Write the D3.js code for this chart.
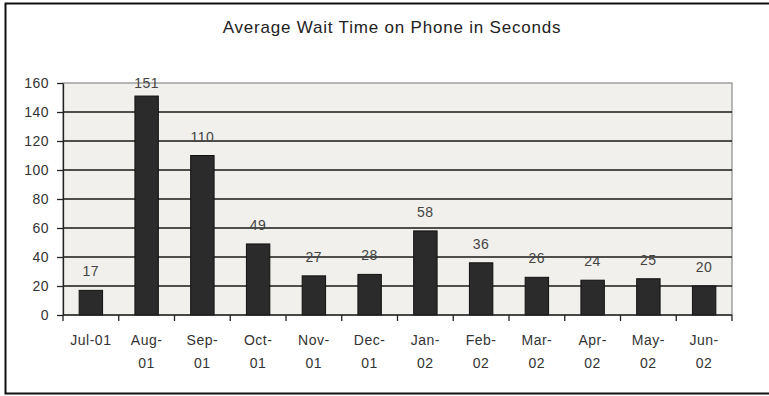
<!DOCTYPE html>
<html>
<head>
<meta charset="utf-8">
<script src="https://cdn.jsdelivr.net/npm/d3@7"></script>
<style>
  body { margin: 0; background: #fff; }
  svg { display: block; font-family: Arial, "Liberation Sans", sans-serif; }
  .grid line { stroke: #1a1a1a; stroke-width: 1.6; }
  .axis path, .axis line { stroke: #222; stroke-width: 1.3; }
  .axis text { fill: #333; font-size: 14px; letter-spacing: 0.5px; }
  .xlabel { fill: #333; font-size: 14px; letter-spacing: 1px; }
  .bar { fill: #2b2b2b; stroke: #111; stroke-width: 1; }
  .value { fill: #444; font-size: 14px; letter-spacing: 0.5px; text-anchor: middle; }
</style>
</head>
<body>
<svg id="chart" width="769" height="396"></svg>
<script>
// chart data
var months = ['Jul-01', 'Aug-01', 'Sep-01', 'Oct-01', 'Nov-01', 'Dec-01',
              'Jan-02', 'Feb-02', 'Mar-02', 'Apr-02', 'May-02', 'Jun-02'];
var waitSeconds = [17, 151, 110, 49, 27, 28, 58, 36, 26, 24, 25, 20];
var yTicks = [0, 20, 40, 60, 80, 100, 120, 140, 160];

var svg = d3.select('#chart'),
    plotLeft = 63,
    plotRight = 732,
    plotTop = 83,
    plotBottom = 315;

var x = d3.scaleBand()
    .domain(months)
    .range([plotLeft, plotRight])
    .paddingInner(0.58)
    .paddingOuter(0.29);

var y = d3.scaleLinear()
    .domain([0, 160])
    .range([plotBottom, plotTop]);

// outer frame (right side falls off the picture)
svg.append('path')
   .attr('d', 'M780,3.5 H5.5 V393.5 H780')
   .attr('fill', 'none')
   .attr('stroke', '#111')
   .attr('stroke-width', 2);

// plot area
svg.append('rect')
   .attr('x', plotLeft)
   .attr('y', plotTop)
   .attr('width', plotRight - plotLeft)
   .attr('height', plotBottom - plotTop)
   .attr('fill', '#f1f0ec')
   .attr('stroke', '#8a8a8a')
   .attr('stroke-width', 1.2);

svg.append('text')
   .attr('x', 392)
   .attr('y', 33)
   .attr('text-anchor', 'middle')
   .attr('font-size', '17px')
   .attr('letter-spacing', '0.8px')
   .attr('fill', '#222')
   .text('Average Wait Time on Phone in Seconds');

// horizontal gridlines, skip the top one which is the plot border
svg.append('g')
   .attr('class', 'grid')
   .selectAll('line')
   .data(yTicks.filter(function(t){ return t > 0 && t < 160; }))
   .enter().append('line')
   .attr('x1', plotLeft)
   .attr('x2', plotRight)
   .attr('y1', function(d){ return y(d); })
   .attr('y2', function(d){ return y(d); });

svg.selectAll('.bar')
   .data(waitSeconds)
   .enter().append('rect')
   .attr('class', 'bar')
   .attr('x', function(d, i){ return x(months[i]); })
   .attr('y', function(d){ return y(d); })
   .attr('width', x.bandwidth())
   .attr('height', function(d){ return plotBottom - y(d); });

svg.selectAll('.value')
   .data(waitSeconds)
   .enter().append('text')
   .attr('class', 'value')
   .attr('x', function(d, i){ return x(months[i]) + x.bandwidth() / 2; })
   .attr('y', function(d){ return Math.max(y(d) - 14, plotTop + 5); })
   .text(function(d){ return d; });

// y axis
svg.append('g')
   .attr('class', 'axis')
   .attr('transform', 'translate(' + plotLeft + ',0)')
   .call(d3.axisLeft(y).tickValues(yTicks).tickSize(6).tickPadding(8).tickSizeOuter(0));

// x axis with ticks between categories
var xAxis = svg.append('g')
   .attr('class', 'axis')
   .attr('transform', 'translate(0,' + plotBottom + ')');
xAxis.append('line')
   .attr('x1', plotLeft).attr('x2', plotRight)
   .attr('y1', 0).attr('y2', 0);
xAxis.selectAll('.tick')
   .data(d3.range(months.length + 1))
   .enter().append('line')
   .attr('x1', function(i){ return plotLeft + i * x.step(); })
   .attr('x2', function(i){ return plotLeft + i * x.step(); })
   .attr('y1', 0)
   .attr('y2', 6);

xAxis.selectAll('.xlabel')
   .data(months)
   .enter().append('text')
   .attr('class', 'xlabel')
   .attr('text-anchor', 'middle')
   .attr('x', function(d){ return x(d) + x.bandwidth() / 2; })
   .attr('y', 30)
   .each(function(d, i){
     var t = d3.select(this);
     if (i === 0) { t.text(d); return; }
     var parts = d.split('-');
     t.append('tspan').attr('x', x(d) + x.bandwidth() / 2).text(parts[0] + '-');
     t.append('tspan').attr('x', x(d) + x.bandwidth() / 2).attr('dy', 23).text(parts[1]);
   });
</script>
</body>
</html>
